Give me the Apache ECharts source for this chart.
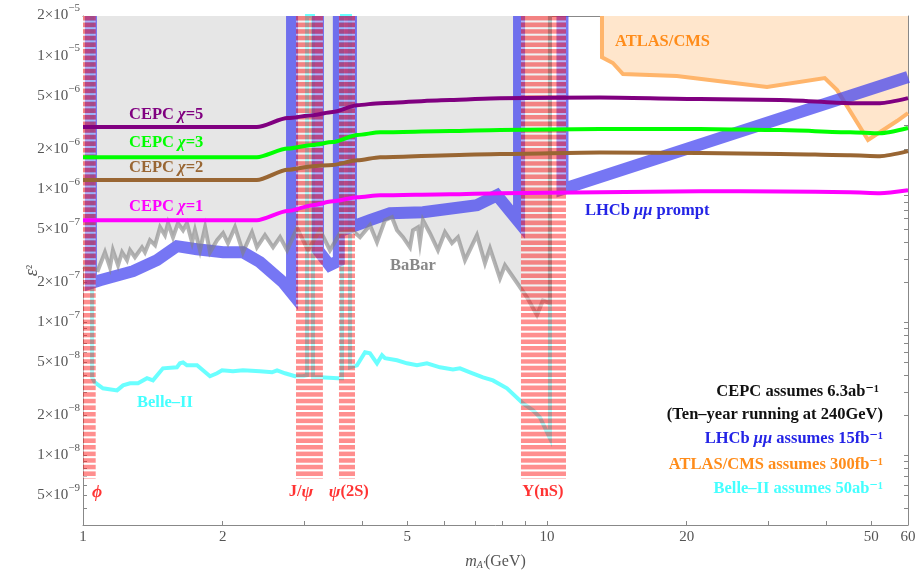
<!DOCTYPE html>
<html><head><meta charset="utf-8">
<script src="https://cdn.jsdelivr.net/npm/echarts@6/dist/echarts.min.js"></script>
<style>html,body{margin:0;padding:0;background:#fff}#c{width:918px;height:572px}</style>
</head><body><div id="c"></div>
<script>
// ---------- axis ticks ----------
const xTickValues = [1,2,3,4,5,6,7,8,9,10,20,30,40,50,60];
const xLabelValues = [1,2,5,10,20,50,60];
const yTickValues = [3e-9,4e-9,5e-9,6e-9,7e-9,8e-9,9e-9,
  1e-8,2e-8,3e-8,4e-8,5e-8,6e-8,7e-8,8e-8,9e-8,
  1e-7,2e-7,3e-7,4e-7,5e-7,6e-7,7e-7,8e-7,9e-7,
  1e-6,2e-6,3e-6,4e-6,5e-6,6e-6,7e-6,8e-6,9e-6,
  1e-5,2e-5];
const yLabelValues = [5e-9,1e-8,2e-8,5e-8,1e-7,2e-7,5e-7,1e-6,2e-6,5e-6,1e-5,2e-5];

// ---------- CEPC ----------
const cepcMass = [1, 2.37, 2.76, 3.13, 3.45, 3.9, 4.37, 6.18, 7.92, 13, 21.4, 31.8, 45, 52.2, 60];
const cepcChi5 = [2.93e-6,2.93e-6,3.42e-6,3.6e-6,3.8e-6,4.28e-6,4.43e-6,4.67e-6,4.83e-6,4.88e-6,4.75e-6,4.67e-6,4.43e-6,4.43e-6,4.83e-6];
const cepcChi3 = [1.74e-6,1.74e-6,2.02e-6,2.15e-6,2.26e-6,2.55e-6,2.68e-6,2.73e-6,2.78e-6,2.83e-6,2.83e-6,2.78e-6,2.68e-6,2.63e-6,2.88e-6];
const cepcChi2 = [1.17e-6,1.17e-6,1.40e-6,1.49e-6,1.52e-6,1.65e-6,1.74e-6,1.80e-6,1.84e-6,1.89e-6,1.87e-6,1.84e-6,1.80e-6,1.77e-6,1.93e-6];
const cepcChi1 = [5.85e-7,5.85e-7,6.85e-7,7.58e-7,8.1e-7,8.71e-7,9.02e-7,9.18e-7,9.34e-7,9.5e-7,9.66e-7,9.6e-7,9.5e-7,9.34e-7,9.83e-7];

// ---------- LHCb mu mu prompt (segments between resonance vetoes) ----------
const lhcbSeg1 = [[1.04,2e-5],[1.04,1.97e-7],[1.088,2.07e-7],[1.282,2.42e-7],[1.444,2.93e-7],[1.594,3.73e-7],[1.761,3.54e-7],[2.004,3.36e-7],[2.212,3.36e-7],[2.407,2.83e-7],[2.698,2.0e-7],[2.822,1.65e-7],[2.822,2e-5]];
const lhcbSeg2 = [[3.209,2e-5],[3.209,3.48e-7],[3.4,2.68e-7],[3.56,2.9e-7],[3.56,2e-5]];
const lhcbSeg3 = [[3.78,2e-5],[3.78,5.18e-7],[4.155,5.85e-7],[4.588,6.6e-7],[5.404,6.72e-7],[7.065,7.58e-7],[7.802,9.0e-7],[8.706,5.65e-7],[8.706,2e-5]];
const lhcbSeg4 = [[10.8,2e-5],[10.8,1.0e-6],[60,6.96e-6]];

// ---------- BaBar ----------
const babar = [[1.0,2.6e-7],[1.077,2.46e-7],[1.115,3.36e-7],[1.143,2.59e-7],[1.16,3.48e-7],[1.19,2.68e-7],[1.214,3.36e-7],[1.244,2.93e-7],[1.263,3.48e-7],[1.294,3.08e-7],[1.34,3.66e-7],[1.36,3.36e-7],[1.394,4.14e-7],[1.43,3.8e-7],[1.466,5.18e-7],[1.502,4.51e-7],[1.525,5.55e-7],[1.563,4.36e-7],[1.602,5.55e-7],[1.643,4.92e-7],[1.675,5.55e-7],[1.718,4.0e-7],[1.743,4.92e-7],[1.787,3.48e-7],[1.833,5.18e-7],[1.878,3.36e-7],[1.945,4.14e-7],[2.004,4.67e-7],[2.053,3.93e-7],[2.126,5.18e-7],[2.212,3.36e-7],[2.313,4.75e-7],[2.371,3.66e-7],[2.467,4.51e-7],[2.568,3.66e-7],[2.659,4.36e-7],[2.753,3.48e-7],[2.893,5.09e-7],[3.054,3.48e-7],[3.241,4.92e-7],[3.406,3.48e-7],[3.58,4.67e-7],[3.8,4.92e-7],[3.954,4.36e-7],[4.155,5.37e-7],[4.302,4.0e-7],[4.476,5.85e-7],[4.634,6.16e-7],[4.751,4.92e-7],[4.895,4.36e-7],[5.067,3.66e-7],[5.143,4.92e-7],[5.272,5.18e-7],[5.324,4.0e-7],[5.404,5.85e-7],[5.594,4.67e-7],[5.822,3.48e-7],[6.027,4.75e-7],[6.241,3.93e-7],[6.43,4.36e-7],[6.657,2.93e-7],[7.065,4.51e-7],[7.352,2.78e-7],[7.536,3.6e-7],[7.919,2.14e-7],[8.118,2.68e-7],[9.056,1.54e-7],[9.515,1.13e-7],[9.8,1.46e-7],[10.15,1.39e-7],[10.15,2e-5]];

// ---------- Belle-II ----------
const belle2 = [[1.046,2e-5],[1.046,3.86e-8],[1.06,3.54e-8],[1.104,3.19e-8],[1.184,3.08e-8],[1.22,3.36e-8],[1.263,3.48e-8],[1.314,3.48e-8],[1.374,3.8e-8],[1.415,3.66e-8],[1.487,4.51e-8],[1.594,4.59e-8],[1.618,4.92e-8],[1.643,5.0e-8],[1.675,4.75e-8],[1.761,4.75e-8],[1.878,3.93e-8],[1.945,4.14e-8],[1.994,4.36e-8],[2.105,4.28e-8],[2.212,4.36e-8],[2.407,4.28e-8],[2.555,4.21e-8],[2.62,4.36e-8],[2.725,4.14e-8],[2.864,3.93e-8],[2.98,3.93e-8],[3.04,4.0e-8],[3.04,2e-5],[3.131,2e-5],[3.131,3.86e-8],[3.241,3.86e-8],[3.545,3.8e-8],[3.616,3.8e-8],[3.616,2e-5],[3.762,2e-5],[3.762,4.59e-8],[3.895,4.75e-8],[4.054,5.95e-8],[4.155,5.85e-8],[4.302,4.92e-8],[4.41,5.65e-8],[4.476,5.37e-8],[4.751,5.18e-8],[4.992,4.92e-8],[5.246,4.75e-8],[5.512,4.92e-8],[5.88,4.59e-8],[6.272,4.43e-8],[6.494,4.51e-8],[6.824,4.21e-8],[7.279,3.86e-8],[7.649,3.66e-8],[8.2,3.19e-8],[8.88,2.46e-8],[9.33,2.18e-8],[9.658,1.93e-8],[10.15,1.34e-8],[10.15,2e-5]];

// ---------- ATLAS/CMS ----------
const atlas = [[13.14,2e-5],[13.14,9.8e-6],[13.87,8.87e-6],[14.58,7.33e-6],[19.05,7.08e-6],[29.8,5.85e-6],[39.7,6.84e-6],[42.2,5.55e-6],[49.2,2.34e-6],[56.8,3.25e-6],[60,3.73e-6]];

// ---------- resonance vetoes ----------
const resonanceBands = [[1.0,1.065],[2.878,3.289],[3.562,3.857],[8.79,10.99]];
const hatchRange = [6.7e-9, 2e-5];
const resonanceLabelX = [1.072, 2.95, 3.74, 9.8];
const resonanceLabelY = 5.3e-9;
const resonanceText = ['{i|ϕ}', 'J/{i|ψ}', '{i|ψ}(2S)', 'Υ(nS)'];

// ---------- rendering ----------
const FONT = '"Liberation Serif","DejaVu Serif",serif';
const axisColor = '#888';
const labelColor = '#555';
const TXT = 16.5;
function sci(v){
  const e = Math.floor(Math.log10(v) + 1e-6);
  const m = Math.round(v / Math.pow(10, e));
  return '{b|' + m + '×10}{s|−' + Math.abs(e) + '}';
}

const xCommon = {
  type:'log', logBase:10, min:1, max:60, gridIndex:0,
  splitLine:{show:false}, minorTick:{show:false},
  axisLine:{show:true, onZero:false, lineStyle:{color:axisColor, width:1}},
  axisTick:{show:true, inside:true, length:4, lineStyle:{color:axisColor}, customValues:xTickValues}
};
const yCommon = {
  type:'log', logBase:10, min:3e-9, max:2e-5, gridIndex:0,
  splitLine:{show:false}, minorTick:{show:false},
  axisLine:{show:true, onZero:false, lineStyle:{color:axisColor, width:1}},
  axisTick:{show:true, inside:true, length:4, lineStyle:{color:axisColor}, customValues:yTickValues}
};

function lineSeries(data, color, width, z, extra){
  return Object.assign({type:'line', data, symbol:'none', showSymbol:false, silent:true, z,
    lineStyle:{color, width, cap:'butt', join:'miter'}, clip:true}, extra||{});
}
const cepcPairs = arr => cepcMass.map((m,i)=>[m, arr[i]]);

const series = [
  lineSeries(babar, 'rgba(0,0,0,0)', 0, 1, {areaStyle:{color:'#e6e6e6', opacity:1, origin:'end'}}),
  lineSeries(atlas, '#ffb56b', 4, 2, {areaStyle:{color:'#ffe6cc', opacity:1, origin:'end'}}),
  lineSeries(belle2, 'rgba(80,255,255,0.85)', 4, 3),
  lineSeries(lhcbSeg1, 'rgba(60,60,240,0.7)', 12, 4),
  lineSeries(lhcbSeg2, 'rgba(60,60,240,0.7)', 12, 4),
  lineSeries(lhcbSeg3, 'rgba(60,60,240,0.7)', 12, 4),
  lineSeries(lhcbSeg4, 'rgba(60,60,240,0.7)', 12, 4),
  lineSeries(babar, 'rgba(130,130,130,0.6)', 4, 5),
  {type:'custom', z:6, silent:true, clip:true,
    data: resonanceBands.map(b => [b[0], b[1], hatchRange[0], hatchRange[1]]),
    encode:{x:[0,1], y:[2,3]},
    renderItem: function(params, api){
      const p0 = api.coord([api.value(0), api.value(3)]);
      const p1 = api.coord([api.value(1), api.value(2)]);
      const x = p0[0], w = p1[0]-p0[0], yTop = p0[1], yBot = p1[1];
      const children = [];
      for (let y = yTop; y < yBot; y += 6.6){
        children.push({type:'rect', shape:{x, y, width:w, height:Math.min(4.6, yBot-y)}, style:{fill:'rgba(255,30,30,0.5)'}});
        if (y + 4.6 < yBot) children.push({type:'rect', shape:{x, y:y+4.6, width:w, height:Math.min(2, yBot-y-4.6)}, style:{fill:'rgba(255,255,255,0.45)'}});
      }
      return {type:'group', children};
    }},
  lineSeries(cepcPairs(cepcChi5), '#800080', 4, 7, {smooth:0.25, smoothMonotone:'x'}),
  lineSeries(cepcPairs(cepcChi3), '#00ff00', 4, 7, {smooth:0.25, smoothMonotone:'x'}),
  lineSeries(cepcPairs(cepcChi2), '#996633', 4, 7, {smooth:0.25, smoothMonotone:'x'}),
  lineSeries(cepcPairs(cepcChi1), '#ff00ff', 4, 7, {smooth:0.25, smoothMonotone:'x'}),
  {type:'scatter', z:8, silent:true, symbol:'circle', symbolSize:1, itemStyle:{color:'rgba(0,0,0,0)'},
    data: resonanceLabelX.map((x,i)=>({value:[x, resonanceLabelY]})),
    label:{show:true, position:'inside', formatter: p => resonanceText[p.dataIndex],
      color:'#ff0000', fontWeight:'bold', fontSize:TXT, fontFamily:FONT,
      rich:{i:{fontStyle:'italic', color:'#ff0000', fontWeight:'bold', fontSize:TXT+1, fontFamily:FONT}}}}
];

function gtext(x, y, text, color, rich, align){
  const base = {fill:color, font:'bold ' + TXT + 'px ' + FONT, fontWeight:'bold', fontSize:TXT, fontFamily:FONT};
  const r = {};
  Object.keys(rich||{}).forEach(k => r[k] = Object.assign({}, base, rich[k]));
  return {type:'text', x, y, z:100, silent:true,
    style:Object.assign({text, align:align||'left', textAlign:align||'left', verticalAlign:'middle', textVerticalAlign:'middle', rich:r}, base)};
}
const it = {i:{fontStyle:'italic'}};
const graphics = [
  gtext(129, 115, 'CEPC {i|χ}=5', '#800080', it),
  gtext(129, 143, 'CEPC {i|χ}=3', '#00ff00', it),
  gtext(129, 168, 'CEPC {i|χ}=2', '#996633', it),
  gtext(129, 207, 'CEPC {i|χ}=1', '#ff00ff', it),
  gtext(390, 266, 'BaBar', '#888888'),
  gtext(137, 403, 'Belle–II', '#44ffff'),
  gtext(585, 211, 'LHCb {i|μμ} prompt', '#2424e6', it),
  gtext(615, 42, 'ATLAS/CMS', '#ff8c1a'),
  gtext(879, 392, 'CEPC assumes 6.3ab⁻¹', '#111111', null, 'right'),
  gtext(883, 415, '(Ten–year running at 240GeV)', '#111111', null, 'right'),
  gtext(883, 439, 'LHCb {i|μμ} assumes 15fb⁻¹', '#2424e6', it, 'right'),
  gtext(883, 465, 'ATLAS/CMS assumes 300fb⁻¹', '#ff8c1a', null, 'right'),
  gtext(883, 489, 'Belle–II assumes 50ab⁻¹', '#44ffff', null, 'right')
];

const chart = echarts.init(document.getElementById('c'));
chart.setOption({
  animation:false,
  backgroundColor:'#ffffff',
  grid:{left:83, right:10, top:16, bottom:47, containLabel:false, outerBoundsMode:'none'},
  xAxis:[
    Object.assign({}, xCommon, {position:'bottom',
      axisLabel:{show:true, customValues:xLabelValues, formatter: v => String(Math.round(v)), color:labelColor, fontFamily:FONT, fontSize:15, margin:5},
      name:'{i|m}{s|A′}{n|(GeV)}', nameLocation:'middle', nameGap:29, nameMoveOverlap:false,
      nameTextStyle:{color:labelColor, fontFamily:FONT, fontSize:15,
        rich:{i:{fontStyle:'italic', fontFamily:FONT, fontSize:16, color:labelColor},
              s:{fontStyle:'italic', fontFamily:FONT, fontSize:10, color:labelColor, verticalAlign:'bottom', padding:[6,0,0,0]},
              n:{fontFamily:FONT, fontSize:16, color:labelColor}}}}),
    Object.assign({}, xCommon, {position:'top', axisLabel:{show:false}})
  ],
  yAxis:[
    Object.assign({}, yCommon, {position:'left',
      axisLabel:{show:true, customValues:yLabelValues, formatter: sci, color:labelColor, fontFamily:FONT, fontSize:15, margin:3, padding:[0,0,6,0],
        rich:{b:{fontFamily:FONT, fontSize:15, color:labelColor, lineHeight:20, verticalAlign:'bottom'},
              s:{fontFamily:FONT, fontSize:11, color:labelColor, lineHeight:20, verticalAlign:'top', padding:[0,0,9,0]}}},
      name:'{i|ε}{n|²}', nameLocation:'middle', nameGap:42, nameRotate:90, nameMoveOverlap:false,
      nameTextStyle:{color:labelColor, fontFamily:FONT, fontSize:15,
        rich:{i:{fontStyle:'italic', fontFamily:FONT, fontSize:18, color:labelColor}, n:{fontFamily:FONT, fontSize:14, color:labelColor}}}}),
    Object.assign({}, yCommon, {position:'right', axisLabel:{show:false}})
  ],
  series: series,
  graphic: graphics
});
</script>
</body></html>
